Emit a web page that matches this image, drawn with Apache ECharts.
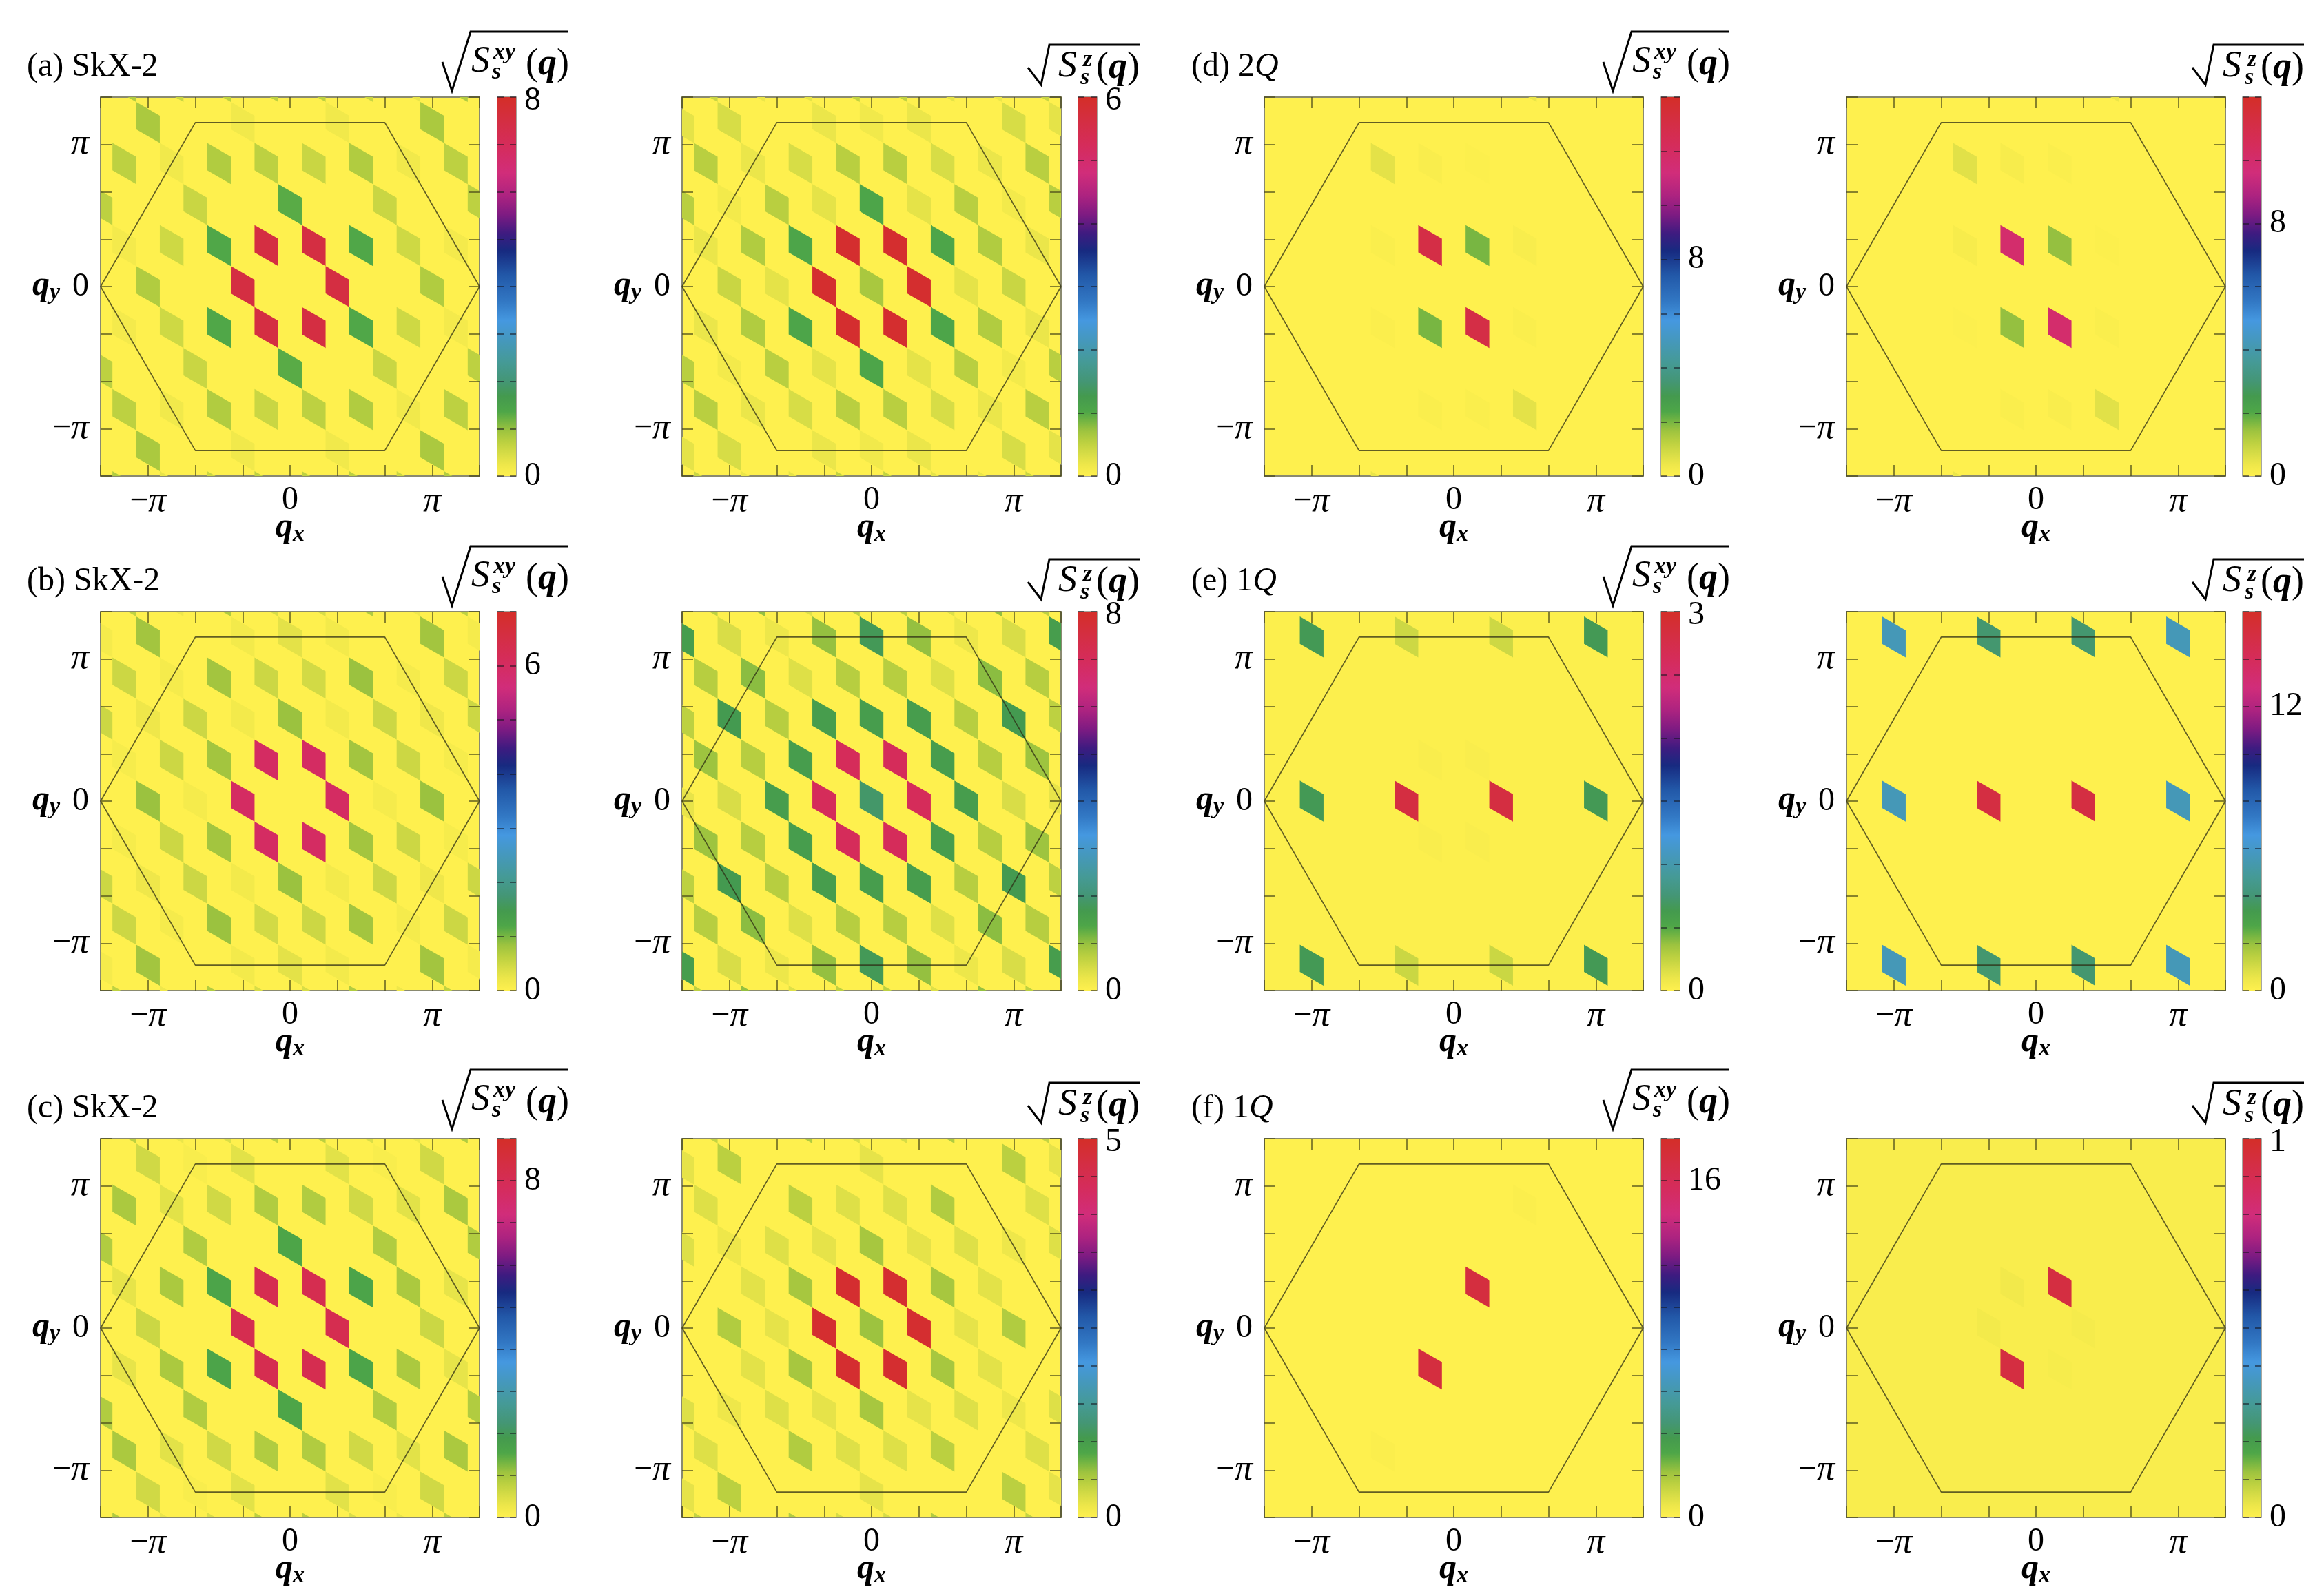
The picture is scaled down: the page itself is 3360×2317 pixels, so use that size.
<!DOCTYPE html>
<html>
<head>
<meta charset="utf-8">
<title>Spin structure factors</title>
<style>
    html, body {margin: 0; padding: 0; background: #fff;}
    #main {width: 3360px; height: 2317px;}
</style>
<script src="https://cdn.jsdelivr.net/npm/echarts@6/dist/echarts.min.js"></script>
</head>
<body>
<div id="main"></div>
<script>
// cells are [m, k, value]: qx = m * pi/6, qy = k * pi/(6*sqrt(3))
const cellsAxy = [
    [-7,15,.8],[-5,15,.6],[-3,15,.7],[-1,15,.7],[1,15,.7],[3,15,.6],[5,15,.3],[7,15,.8],
    [-6,12,.85],[-2,12,.2],[2,12,.2],[6,12,.85],
    [-7,9,.7],[-5,9,.2],[-3,9,.8],[-1,9,.7],[1,9,.6],[3,9,.8],[5,9,.2],[7,9,.7],
    [-8,6,.7],[-4,6,.6],[0,6,1.3],[4,6,.6],[8,6,.7],
    [-7,3,.15],[-5,3,.55],[-3,3,1.35],[-1,3,7.5],[1,3,7.5],[3,3,1.35],[5,3,.55],[7,3,.15],
    [-6,0,.8],[-2,0,7.5],[2,0,7.5],[6,0,.8],
    [-7,-3,.15],[-5,-3,.55],[-3,-3,1.35],[-1,-3,7.5],[1,-3,7.5],[3,-3,1.35],[5,-3,.55],[7,-3,.15],
    [-8,-6,.7],[-4,-6,.6],[0,-6,1.3],[4,-6,.6],[8,-6,.7],
    [-7,-9,.7],[-5,-9,.2],[-3,-9,.8],[-1,-9,.6],[1,-9,.7],[3,-9,.8],[5,-9,.2],[7,-9,.7],
    [-6,-12,.85],[-2,-12,.2],[2,-12,.2],[6,-12,.85],
    [-7,-15,.8],[-5,-15,.3],[-3,-15,.6],[-1,-15,.7],[1,-15,.7],[3,-15,.7],[5,-15,.6],[7,-15,.8]
];
const cellsAz = [
    [-7,15,.45],[-5,15,.2],[-3,15,.25],[-1,15,.5],[1,15,.5],[3,15,.25],[5,15,.2],[7,15,.45],
    [-8,12,.25],[-6,12,.35],[-2,12,.2],[0,12,.15],[2,12,.2],[6,12,.35],[8,12,.25],
    [-7,9,.55],[-5,9,.2],[-3,9,.35],[-1,9,.55],[1,9,.55],[3,9,.35],[5,9,.2],[7,9,.55],
    [-8,6,.55],[-6,6,.12],[-4,6,.55],[-2,6,.25],[0,6,1.05],[2,6,.25],[4,6,.55],[6,6,.12],[8,6,.55],
    [-7,3,.2],[-5,3,.6],[-3,3,1.05],[-1,3,5.9],[1,3,5.9],[3,3,1.05],[5,3,.6],[7,3,.2],
    [-6,0,.45],[-4,0,.25],[-2,0,5.9],[0,0,.65],[2,0,5.9],[4,0,.25],[6,0,.45],
    [-7,-3,.2],[-5,-3,.6],[-3,-3,1.05],[-1,-3,5.9],[1,-3,5.9],[3,-3,1.05],[5,-3,.6],[7,-3,.2],
    [-8,-6,.55],[-6,-6,.12],[-4,-6,.55],[-2,-6,.25],[0,-6,1.05],[2,-6,.25],[4,-6,.55],[6,-6,.12],[8,-6,.55],
    [-7,-9,.55],[-5,-9,.2],[-3,-9,.35],[-1,-9,.55],[1,-9,.55],[3,-9,.35],[5,-9,.2],[7,-9,.55],
    [-8,-12,.25],[-6,-12,.35],[-2,-12,.2],[0,-12,.15],[2,-12,.2],[6,-12,.35],[8,-12,.25],
    [-7,-15,.45],[-5,-15,.2],[-3,-15,.25],[-1,-15,.5],[1,-15,.5],[3,-15,.25],[5,-15,.2],[7,-15,.45]
];
const cellsBxy = [
    [-7,15,.6],[-5,15,.2],[-3,15,.7],[-1,15,.4],[1,15,.4],[3,15,.7],[5,15,.2],[7,15,.6],
    [-8,12,.12],[-6,12,.8],[-2,12,.15],[0,12,.3],[2,12,.15],[6,12,.8],[8,12,.12],
    [-7,9,.5],[-5,9,.12],[-3,9,.8],[-1,9,.5],[1,9,.45],[3,9,.85],[5,9,.12],[7,9,.5],
    [-8,6,.5],[-6,6,.2],[-4,6,.5],[-2,6,.15],[0,6,.85],[2,6,.15],[4,6,.5],[6,6,.2],[8,6,.5],
    [-7,3,.1],[-5,3,.5],[-3,3,.8],[-1,3,6],[1,3,6],[3,3,.8],[5,3,.5],[7,3,.1],
    [-6,0,.85],[-4,0,.12],[-2,0,6],[2,0,6],[4,0,.12],[6,0,.85],
    [-7,-3,.1],[-5,-3,.5],[-3,-3,.8],[-1,-3,6],[1,-3,6],[3,-3,.8],[5,-3,.5],[7,-3,.1],
    [-8,-6,.5],[-6,-6,.2],[-4,-6,.5],[-2,-6,.15],[0,-6,.85],[2,-6,.15],[4,-6,.5],[6,-6,.2],[8,-6,.5],
    [-7,-9,.5],[-5,-9,.12],[-3,-9,.85],[-1,-9,.45],[1,-9,.5],[3,-9,.8],[5,-9,.12],[7,-9,.5],
    [-8,-12,.12],[-6,-12,.8],[-2,-12,.15],[0,-12,.3],[2,-12,.15],[6,-12,.8],[8,-12,.12],
    [-7,-15,.6],[-5,-15,.2],[-3,-15,.7],[-1,-15,.4],[1,-15,.4],[3,-15,.7],[5,-15,.2],[7,-15,.6]
];
const cellsBz = [
    [-7,15,.7],[-5,15,1],[-3,15,.4],[-1,15,.7],[1,15,.7],[3,15,.4],[5,15,1],[7,15,.7],
    [-8,12,1.6],[-6,12,.45],[-4,12,.25],[-2,12,1],[0,12,1.75],[2,12,1],[4,12,.25],[6,12,.45],[8,12,1.6],
    [-7,9,.75],[-5,9,1.05],[-3,9,.4],[-1,9,.75],[1,9,.75],[3,9,.4],[5,9,1.05],[7,9,.75],
    [-8,6,.7],[-6,6,1.7],[-4,6,.75],[-2,6,1.6],[0,6,1.6],[2,6,1.6],[4,6,.75],[6,6,1.7],[8,6,.7],
    [-7,3,.95],[-5,3,.75],[-3,3,1.6],[-1,3,7],[1,3,7],[3,3,1.6],[5,3,.75],[7,3,.95],
    [-8,0,.3],[-6,0,.45],[-4,0,1.6],[-2,0,7],[0,0,1.9],[2,0,7],[4,0,1.6],[6,0,.45],[8,0,.3],
    [-7,-3,.95],[-5,-3,.75],[-3,-3,1.6],[-1,-3,7],[1,-3,7],[3,-3,1.6],[5,-3,.75],[7,-3,.95],
    [-8,-6,.7],[-6,-6,1.7],[-4,-6,.75],[-2,-6,1.6],[0,-6,1.6],[2,-6,1.6],[4,-6,.75],[6,-6,1.7],[8,-6,.7],
    [-7,-9,.75],[-5,-9,1.05],[-3,-9,.4],[-1,-9,.75],[1,-9,.75],[3,-9,.4],[5,-9,1.05],[7,-9,.75],
    [-8,-12,1.6],[-6,-12,.45],[-4,-12,.25],[-2,-12,1],[0,-12,1.75],[2,-12,1],[4,-12,.25],[6,-12,.45],[8,-12,1.6],
    [-7,-15,.7],[-5,-15,1],[-3,-15,.4],[-1,-15,.7],[1,-15,.7],[3,-15,.4],[5,-15,1],[7,-15,.7]
];
const cellsCxy = [
    [-7,15,.8],[-5,15,.3],[-3,15,.5],[-1,15,.8],[1,15,.8],[3,15,.5],[5,15,.3],[7,15,.9],
    [-6,12,.6],[-4,12,.1],[-2,12,.4],[2,12,.4],[4,12,.1],[6,12,.6],
    [-7,9,.95],[-5,9,.4],[-3,9,.6],[-1,9,.9],[1,9,.9],[3,9,.6],[5,9,.4],[7,9,.95],
    [-8,6,.9],[-4,6,.9],[0,6,1.55],[4,6,.9],[8,6,.9],
    [-7,3,.35],[-5,3,.95],[-3,3,1.6],[-1,3,8.1],[1,3,8.1],[3,3,1.6],[5,3,.95],[7,3,.35],
    [-6,0,.65],[-2,0,8.1],[2,0,8.1],[6,0,.65],
    [-7,-3,.35],[-5,-3,.95],[-3,-3,1.6],[-1,-3,8.1],[1,-3,8.1],[3,-3,1.6],[5,-3,.95],[7,-3,.35],
    [-8,-6,.9],[-4,-6,.9],[0,-6,1.55],[4,-6,.9],[8,-6,.9],
    [-7,-9,.95],[-5,-9,.4],[-3,-9,.6],[-1,-9,.9],[1,-9,.9],[3,-9,.6],[5,-9,.4],[7,-9,.95],
    [-6,-12,.6],[-4,-12,.1],[-2,-12,.4],[2,-12,.4],[4,-12,.1],[6,-12,.6],
    [-7,-15,.9],[-5,-15,.3],[-3,-15,.5],[-1,-15,.8],[1,-15,.8],[3,-15,.5],[5,-15,.3],[7,-15,.8]
];
const cellsCz = [
    [-7,15,.4],[-3,15,.5],[-1,15,.3],[1,15,.3],[3,15,.5],[7,15,.4],
    [-8,12,.2],[-6,12,.45],[0,12,.2],[6,12,.45],[8,12,.2],
    [-7,9,.25],[-3,9,.45],[-1,9,.25],[1,9,.25],[3,9,.5],[7,9,.25],
    [-8,6,.25],[-6,6,.15],[-4,6,.25],[-2,6,.2],[0,6,.55],[2,6,.2],[4,6,.25],[6,6,.15],[8,6,.25],
    [-5,3,.22],[-3,3,.55],[-1,3,4.9],[1,3,4.9],[3,3,.55],[5,3,.22],
    [-6,0,.5],[-4,0,.2],[-2,0,4.9],[0,0,.6],[2,0,4.9],[4,0,.2],[6,0,.5],
    [-5,-3,.22],[-3,-3,.55],[-1,-3,4.9],[1,-3,4.9],[3,-3,.55],[5,-3,.22],
    [-8,-6,.25],[-6,-6,.15],[-4,-6,.25],[-2,-6,.2],[0,-6,.55],[2,-6,.2],[4,-6,.25],[6,-6,.15],[8,-6,.25],
    [-7,-9,.25],[-3,-9,.5],[-1,-9,.25],[1,-9,.25],[3,-9,.45],[7,-9,.25],
    [-8,-12,.2],[-6,-12,.45],[0,-12,.2],[6,-12,.45],[8,-12,.2],
    [-7,-15,.4],[-3,-15,.5],[-1,-15,.3],[1,-15,.3],[3,-15,.5],[7,-15,.4]
];
const cellsDxy = [
    [3,15,.5],[-3,9,.6],[-1,9,.12],[1,9,.06],[-3,3,.1],[-1,3,13],[1,3,2],[3,3,.15],
    [-3,-3,.08],[-1,-3,2],[1,-3,13],[3,-3,.1],[-1,-9,.1],[1,-9,.1],[3,-9,.6],[-3,-15,.5]
];
const cellsDz = [
    [3,15,.4],[-3,9,.55],[-1,9,.15],[1,9,.1],[-3,3,.15],[-1,3,10],[1,3,1.5],[3,3,.05],
    [-3,-3,.04],[-1,-3,1.5],[1,-3,10],[3,-3,.1],[-1,-9,.08],[1,-9,.12],[3,-9,.55],[-3,-15,.4]
];
const cellsExy = [
    [-6,12,.65],[-2,12,.21],[2,12,.21],[6,12,.65],
    [-1,3,.03],[1,3,.03],
    [-6,0,.65],[-2,0,2.82],[2,0,2.82],[6,0,.65],
    [-1,-3,.03],[1,-3,.03],
    [-6,-12,.65],[-2,-12,.22],[2,-12,.22],[6,-12,.65]
];
const cellsEz = [
    [-6,12,5.6],[-2,12,3.9],[2,12,3.9],[6,12,5.6],
    [-6,0,5.6],[-2,0,15],[2,0,15],[6,0,5.6],
    [-6,-12,5.6],[-2,-12,3.9],[2,-12,3.9],[6,-12,5.6]
];
const cellsFxy = [[3,9,.1],[1,3,17],[-1,-3,17],[-3,-9,.1]];
const cellsFz = [[-1,3,.022],[1,3,.94],[-2,0,.02],[2,0,.016],[-1,-3,.94],[1,-3,.015]];

const panelCells = [
    cellsAxy, cellsAz, cellsDxy, cellsDz,
    cellsBxy, cellsBz, cellsExy, cellsEz,
    cellsCxy, cellsCz, cellsFxy, cellsFz
];
const panelBarMax = [8, 6, 14, 12, 7, 8, 3, 16, 9, 5, 18, 1];
const panelBarStep = [1, 1, 2, 2, 1, 1, 0.5, 2, 1, 0.5, 2, 0.1];
const panelBarLabels = [[0, 8], [0, 6], [0, 8], [0, 8], [0, 6], [0, 8], [0, 3], [0, 12], [0, 8], [0, 5], [0, 16], [0, 1]];
const panelBase = [0, 0, 0, 0, 0, 0, 0.012, 0, 0, 0, 0, 0.01];
const rowLabels = [
    {parts: ['(a) SkX-2'], row: 0, col: 0},
    {parts: ['(b) SkX-2'], row: 1, col: 0},
    {parts: ['(c) SkX-2'], row: 2, col: 0},
    {parts: ['(d) 2', 'Q'], row: 0, col: 2},
    {parts: ['(e) 1', 'Q'], row: 1, col: 2},
    {parts: ['(f) 1', 'Q'], row: 2, col: 2}
];

// hexagon and axes are in units of pi/3
const hexagonQx = [4, 2, -2, -4, -2, 2, 4];
const hexagonQy = [0, 3.464, 3.464, 0, -3.464, -3.464, 0];
const piTickLabels = {'-3': '{n|\u2212}{pi|\u03c0}', '0': '{n|0}', '3': '{pi|\u03c0}'};

const paletteStops = [
    [0, '#fef04e'], [.03, '#eee74a'], [.06, '#d6dc46'], [.09, '#bbd040'], [.12, '#9dc33f'],
    [.15, '#6cb243'], [.17, '#4ea648'], [.21, '#449a4e'], [.25, '#449675'], [.30, '#459a96'],
    [.36, '#4598be'], [.41, '#4598e0'], [.46, '#3278c4'], [.53, '#2258a8'], [.594, '#172a80'],
    [.64, '#3e1b80'], [.69, '#7e1b82'], [.74, '#ad2380'], [.80, '#d12d7a'], [.875, '#d52c5a'],
    [.93, '#d42e45'], [1, '#d42e28']
];

const plotLefts = [146, 990, 1835, 2680];
const barLefts = [722, 1565, 2411, 3255];
const rowTops = [141, 888, 1653];
const titleShift = [0, 0, -5];
const plotSize = 550;
const barWidth = 27;
const cellWidth = 0.5;
const cellStep = 1 / (2 * Math.sqrt(3));
const serif = 'Liberation Serif';
const tickColor = 'rgba(70,70,25,0.65)';

function paletteColor(t) {
    for (let i = 1; i < paletteStops.length; i++) {
        if (t <= paletteStops[i][0]) {
            const a = paletteStops[i - 1];
            const b = paletteStops[i];
            return echarts.color.lerp((t - a[0]) / (b[0] - a[0]), [a[1], b[1]]);
        }
    }
    return paletteStops[paletteStops.length - 1][1];
}

function renderCell(params, api) {
    const qx = api.value(0);
    const qy = api.value(1);
    const half = cellWidth / 2;
    const points = [
        api.coord([qx - half, qy + 1.5 * cellStep]),
        api.coord([qx + half, qy + 0.5 * cellStep]),
        api.coord([qx + half, qy - 1.5 * cellStep]),
        api.coord([qx - half, qy - 0.5 * cellStep])
    ];
    return {
        type: 'polygon',
        shape: {points: points},
        style: {fill: paletteColor(api.value(2))}
    };
}

function fontStyleOf(size, italic, bold) {
    return {
        fontFamily: serif,
        fontSize: size,
        fontStyle: italic ? 'italic' : 'normal',
        fontWeight: bold ? 'bold' : 'normal',
        fill: '#000',
        color: '#000'
    };
}

const option = {
    animation: false,
    backgroundColor: '#fff',
    grid: [],
    xAxis: [],
    yAxis: [],
    series: [],
    graphic: []
};

function addText(text, x, y, style) {
    option.graphic.push({
        type: 'text',
        x: x,
        y: y,
        style: Object.assign({text: text, verticalAlign: 'middle'}, style)
    });
}

function addRootTitle(isXy, left, top) {
    const v = isXy ? [[496, -51], [510, -9], [537, -95], [678, -95]] : [[502, -43], [521, -18], [533, -76], [664, -76]];
    option.graphic.push({
        type: 'polyline',
        shape: {points: v.map(p => [left + p[0], top + p[1]])},
        style: {stroke: '#000', lineWidth: 3, fill: null}
    });
    const big = fontStyleOf(54, true, false);
    const small = fontStyleOf(34, true, true);
    const paren = {rich: {p: fontStyleOf(54, false, false), q: fontStyleOf(54, true, true)}};
    if (isXy) {
        addText('S', left + 538, top - 51, big);
        addText('xy', left + 570, top - 65, small);
        addText('s', left + 568, top - 36, small);
        addText('{p|(}{q|q}{p|)}', left + 617, top - 47, paren);
    } else {
        addText('S', left + 546, top - 44, big);
        addText('z', left + 582, top - 54, small);
        addText('s', left + 578, top - 28, small);
        addText('{p|(}{q|q}{p|)}', left + 601, top - 42, paren);
    }
}

panelCells.forEach((cells, index) => {
    const col = index % 4;
    const row = Math.floor(index / 4);
    const left = plotLefts[col];
    const top = rowTops[row];
    const barMax = panelBarMax[index];
    const plotGrid = option.grid.length;
    const axisStart = option.xAxis.length;
    const yStart = option.yAxis.length;

    option.grid.push({
        left: left, top: top, width: plotSize, height: plotSize, show: true,
        backgroundColor: paletteColor(panelBase[index] / barMax),
        borderColor: '#8a8a70', borderWidth: 2
    });
    option.grid.push({
        left: barLefts[col], top: top, width: barWidth, height: plotSize, show: true,
        backgroundColor: 'transparent', borderColor: '#8a8a80', borderWidth: 1.5
    });

    const plotAxis = {
        gridIndex: plotGrid, type: 'value', min: -4, max: 4, interval: 1, z: 10,
        splitLine: {show: false},
        axisLine: {show: false, onZero: false},
        axisTick: {show: true, inside: true, length: 16, lineStyle: {color: tickColor, width: 2}},
        axisLabel: {show: false}
    };
    const piLabel = margin => ({
        show: true, margin: margin,
        rich: {n: fontStyleOf(48, false, false), pi: fontStyleOf(52, true, false)},
        formatter: value => piTickLabels[String(value)] || ''
    });
    const nameRich = {
        q: Object.assign(fontStyleOf(50, true, true), {lineHeight: 52, verticalAlign: 'top'}),
        s: Object.assign(fontStyleOf(34, true, true), {lineHeight: 52, verticalAlign: 'bottom', padding: [14, 0, 0, 0]})
    };

    option.xAxis.push(Object.assign({}, plotAxis, {
        position: 'bottom', axisLabel: piLabel(11),
        name: '{q|q}{s|x}', nameLocation: 'middle', nameGap: 50, nameMoveOverlap: false,
        nameTextStyle: {rich: nameRich}
    }));
    option.xAxis.push(Object.assign({}, plotAxis, {position: 'top'}));
    option.yAxis.push(Object.assign({}, plotAxis, {
        position: 'left', axisLabel: piLabel(17),
        name: '{q|q}{s|y}',
        nameLocation: 'middle', nameRotate: 0, nameGap: 59, nameMoveOverlap: false,
        nameTextStyle: {rich: nameRich}
    }));
    option.yAxis.push(Object.assign({}, plotAxis, {position: 'right'}));

    const barGrid = plotGrid + 1;
    const barAxis = {
        gridIndex: barGrid, type: 'value', min: 0, max: barMax, interval: panelBarStep[index], z: 10,
        splitLine: {show: false},
        axisLine: {show: false, onZero: false},
        axisTick: {show: true, inside: true, length: 9, lineStyle: {color: 'rgba(20,20,30,0.55)', width: 2}},
        axisLabel: {show: false}
    };
    option.xAxis.push({
        gridIndex: barGrid, type: 'category', data: ['bar'], show: false
    });
    option.yAxis.push(Object.assign({}, barAxis, {position: 'left'}));
    option.yAxis.push(Object.assign({}, barAxis, {
        position: 'right',
        axisLabel: {
            show: true, margin: 12, fontFamily: serif, fontSize: 48, color: '#000',
            rich: {top: Object.assign(fontStyleOf(48, false, false), {padding: [10, 0, 0, 0]})},
            formatter: value => {
                if (!panelBarLabels[index].some(l => Math.abs(l - value) < 1e-6)) {
                    return '';
                }
                return value === barMax ? `{top|${Math.round(value)}}` : String(Math.round(value));
            }
        }
    }));

    option.series.push({
        type: 'custom',
        xAxisIndex: axisStart,
        yAxisIndex: yStart,
        clip: true,
        silent: true,
        z: 2,
        renderItem: renderCell,
        data: cells.map(c => [c[0] * cellWidth, c[1] * cellStep, c[2] / barMax])
    });
    option.series.push({
        type: 'line',
        xAxisIndex: axisStart,
        yAxisIndex: yStart,
        clip: false,
        silent: true,
        showSymbol: false,
        z: 5,
        lineStyle: {color: 'rgba(45,45,20,0.75)', width: 1.7},
        data: hexagonQx.map((x, i) => [x, hexagonQy[i]])
    });
    option.series.push({
        type: 'bar',
        xAxisIndex: axisStart + 2,
        yAxisIndex: yStart + 2,
        barWidth: '100%',
        silent: true,
        z: 2,
        itemStyle: {
            color: new echarts.graphic.LinearGradient(0, 1, 0, 0, paletteStops.map(s => ({offset: s[0], color: s[1]})))
        },
        data: [barMax]
    });

    addRootTitle(col % 2 === 0, left - (col === 2 ? 4 : 0), top + titleShift[row]);
});

rowLabels.forEach(label => {
    const x = label.col === 0 ? 39 : 1729;
    const y = rowTops[label.row] - 44;
    const text = label.parts.length > 1 ? `{n|${label.parts[0]}}{i|${label.parts[1]}}` : `{n|${label.parts[0]}}`;
    addText(text, x, y, {rich: {n: fontStyleOf(48, false, false), i: fontStyleOf(48, true, false)}});
});

const myChart = echarts.init(document.getElementById('main'));
myChart.setOption(option);
</script>
</body>
</html>
